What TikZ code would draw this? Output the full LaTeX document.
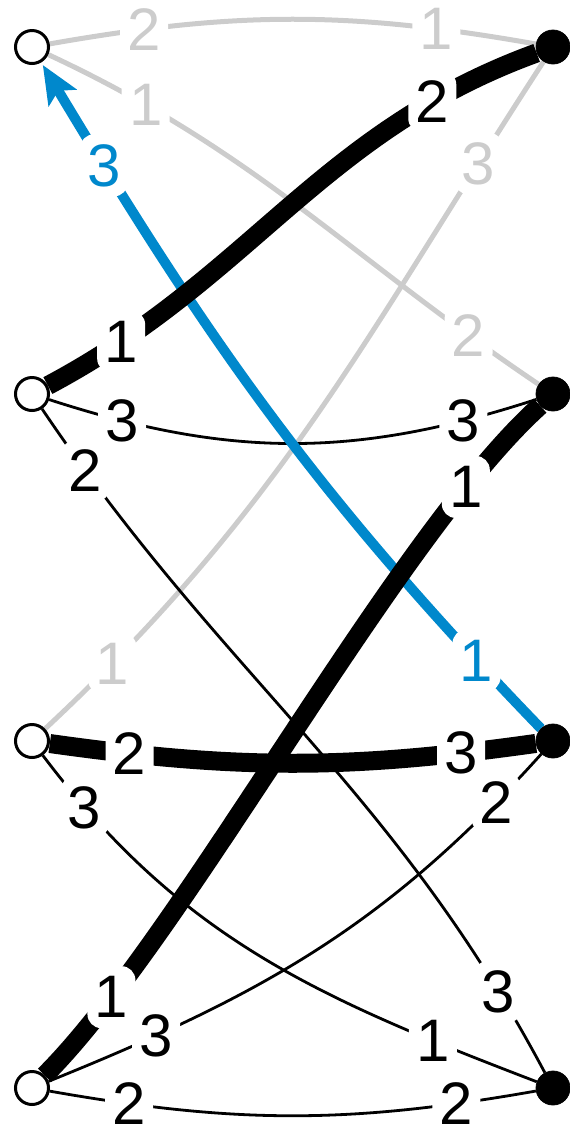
\documentclass[tikz,border=0pt]{standalone}
\usepackage{fontspec}
\setmainfont{Liberation Sans}
\usetikzlibrary{arrows.meta,positioning,backgrounds}
\definecolor{edgegray}{HTML}{CCCCCC}
\definecolor{propblue}{HTML}{0088CC}
\tikzset{lnode/.style={circle,draw,fill=white,line width=1.5pt,minimum size=16.5pt,inner sep=0pt},
  rnode/.style={circle,draw,fill=black,minimum size=17pt,inner sep=0pt},
  rk/.style={fill=white,rounded corners=7pt,inner sep=0pt,minimum width=24pt,minimum height=31pt,
    text depth=0pt,font=\fontsize{30}{36}\selectfont}}

\begin{document}
\begin{tikzpicture}[x=0.5pt,y=0.5pt,on grid,node distance=173.5pt and 260.5pt,
  faint/.style={edgegray,line width=2.5pt},
  hair/.style={black,line width=1.4pt},
  heavy/.style={black,line width=9.5pt},
  prop/.style={propblue,line width=5pt,-{Stealth[length=19pt,width=16pt,inset=4pt]},shorten >=1.5pt}]
\useasboundingbox (0,0) rectangle (569,-1132);
% left column (open) and right column (filled)
\node[lnode] (l1) at (32,-47) {};
\node[lnode,below=of l1] (l2) {};
\node[lnode,below=of l2] (l3) {};
\node[lnode,below=of l3] (l4) {};
\node[rnode,right=of l1] (r1) {};
\node[rnode,right=of l2] (r2) {};
\node[rnode,right=of l3] (r3) {};
\node[rnode,right=of l4] (r4) {};
\begin{scope}[on background layer]
% rejected pairs
\draw[faint] (l1) to[bend left=10] node[rk,pos=.18]{2} node[rk,pos=.81]{1} (r1);
\draw[faint] (l1) to[out=-25,in=146] node[rk,pos=.17]{1} node[rk,pos=.87]{2} (r2);
\draw[faint] (r1) to[out=237,in=43] node[rk,pos=.13]{3} node[rk,pos=.9]{1} (l3);
% open pairs
\draw[hair] (l2) to[bend right=18] node[rk,pos=.14]{3} node[rk,pos=.86]{3} (r2);
\draw[hair] (l2) to[out=-56,in=118] node[rk,pos=.08]{2} node[rk,pos=.9]{3} (r4);
\draw[hair] (l3) to[out=-53,in=159] node[rk,pos=.1]{3} node[rk,pos=.83]{1} (r4);
\draw[hair] (l4) to[out=22,in=228] node[rk,pos=.18]{3} node[rk,pos=.9]{2} (r3);
\draw[hair] (l4) to[bend right=10] node[rk,pos=.15]{2} node[rk,pos=.85]{2} (r4);
% proposal
\draw[prop] (r3) to[out=134,in=301] node[rk,pos=.1]{1} node[rk,pos=.87]{3} (l1);
% matched pairs
\draw[heavy] (r1) to[out=200,in=28] node[rk,pos=.18]{2} node[rk,pos=.87]{1} (l2);
\draw[heavy] (r2) to[out=222,in=45,looseness=.6] node[rk,pos=.16]{1} node[rk,pos=.85]{1} (l4);
\draw[heavy] (l3) to[bend right=8] node[rk,pos=.15]{2} node[rk,pos=.86]{3} (r3);
\end{scope}
\end{tikzpicture}
\end{document}
